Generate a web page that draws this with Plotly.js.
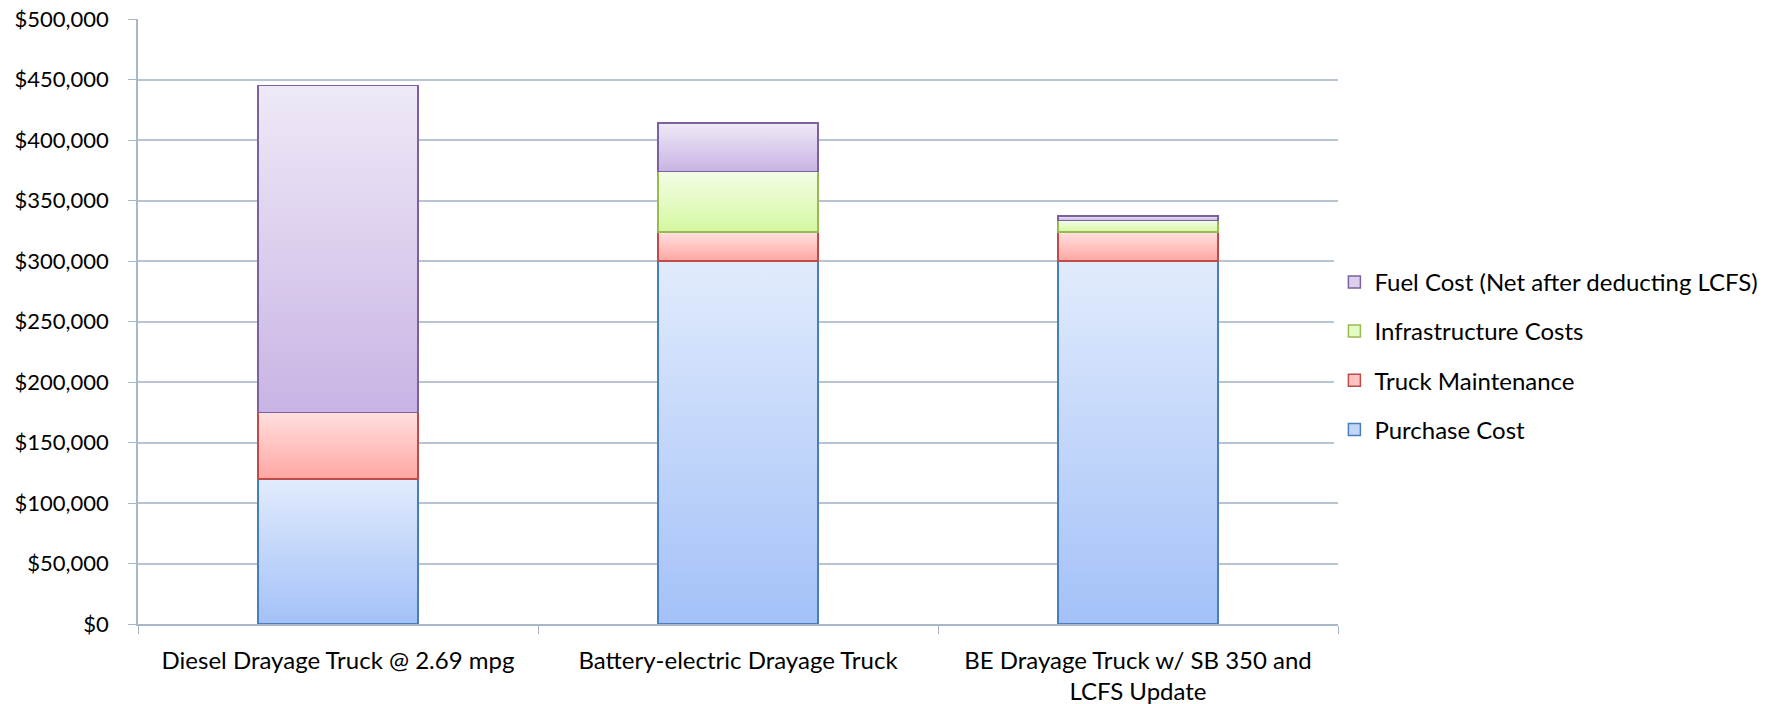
<!DOCTYPE html>
<html>
<head>
<meta charset="utf-8">
<script src="https://cdn.plot.ly/plotly-3.0.1.min.js"></script>
<style>
  html, body { margin: 0; padding: 0; background: #fff; }
  #chart { width: 1777px; height: 704px; }
</style>
</head>
<body>
<div id="chart"></div>
<svg width="0" height="0" style="position:absolute">
  <defs>
    <linearGradient id="g-purchase" x1="0" y1="0" x2="0" y2="1">
      <stop offset="0" stop-color="#e1ebfc"/><stop offset="1" stop-color="#a3c1f8"/>
    </linearGradient>
    <linearGradient id="g-maint" x1="0" y1="0" x2="0" y2="1">
      <stop offset="0" stop-color="#ffe0df"/><stop offset="1" stop-color="#ffa6a2"/>
    </linearGradient>
    <linearGradient id="g-infra" x1="0" y1="0" x2="0" y2="1">
      <stop offset="0" stop-color="#f3fde6"/><stop offset="1" stop-color="#d5f8a0"/>
    </linearGradient>
    <linearGradient id="g-fuel" x1="0" y1="0" x2="0" y2="1">
      <stop offset="0" stop-color="#efe9f7"/><stop offset="1" stop-color="#c8b4e4"/>
    </linearGradient>
  </defs>
</svg>
<script>
const categories = [
  'Diesel Drayage Truck @ 2.69 mpg',
  'Battery-electric Drayage Truck',
  'BE Drayage Truck w/ SB 350 and<br>LCFS Update'
]
const purchaseCost = [120000, 300000, 300000]
const truckMaintenance = [55000, 24000, 24000]
const infrastructureCosts = [0, 50000, 9500]
const fuelCost = [270000, 40000, 3500]

const seriesNames = ['Purchase Cost', 'Truck Maintenance', 'Infrastructure Costs', 'Fuel Cost (Net after deducting LCFS)']
const seriesValues = [purchaseCost, truckMaintenance, infrastructureCosts, fuelCost]
const fillColors = ['#c3d7fa', '#ffc3c1', '#e4fbc3', '#dccfee']
const lineColors = ['#4a7ebb', '#be4b48', '#98b954', '#7d60a0']
const gradientIds = ['g-purchase', 'g-maint', 'g-infra', 'g-fuel']

const container = document.getElementById('chart')
const fontFamily = 'Lato, "Open Sans", sans-serif'

const traces = seriesNames.map((name, i) => ({
  name: name,
  type: 'bar',
  x: categories,
  y: seriesValues[i],
  legendgroup: 'g' + i,
  legendrank: seriesNames.length - i,
  marker: {
    color: fillColors[i],
    line: {color: lineColors[i], width: 1.5}
  },
  hoverinfo: 'name+y'
}))

const layout = {
  width: 1777,
  height: 704,
  barmode: 'stack',
  bargap: 0.6,
  paper_bgcolor: '#fff',
  plot_bgcolor: '#fff',
  font: {family: fontFamily, size: 22, color: '#000'},
  margin: {l: 138, r: 439, t: 19, b: 80},
  xaxis: {
    type: 'category',
    tickson: 'boundaries',
    ticks: 'outside',
    ticklen: 8,
    tickcolor: '#a9b8c8',
    ticklabelstandoff: 14,
    showline: true,
    linecolor: '#a9b8c8',
    linewidth: 1.5,
    showgrid: false,
    tickfont: {size: 24}
  },
  yaxis: {
    range: [0, 500000],
    dtick: 50000,
    tickprefix: '$',
    tickformat: ',d',
    ticks: 'outside',
    ticklen: 8,
    tickcolor: '#a9b8c8',
    ticklabelstandoff: 15,
    showline: true,
    linecolor: '#a9b8c8',
    linewidth: 1.5,
    gridcolor: '#b7c4d1',
    gridwidth: 1.5,
    zeroline: false,
    tickfont: {size: 22}
  },
  legend: {
    x: 0.997,
    xanchor: 'left',
    y: 0.602,
    yanchor: 'top',
    traceorder: 'grouped',
    tracegroupgap: 15,
    font: {size: 24}
  }
}

Plotly.newPlot(container, traces, layout, {displayModeBar: false}).then(() => {
  // per-segment vertical gradient like the original spreadsheet chart
  container.querySelectorAll('.barlayer .trace').forEach((tr, i) => {
    tr.querySelectorAll('path').forEach(p => { p.style.fill = 'url(#' + gradientIds[i] + ')' })
  })
})
</script>
</body>
</html>
